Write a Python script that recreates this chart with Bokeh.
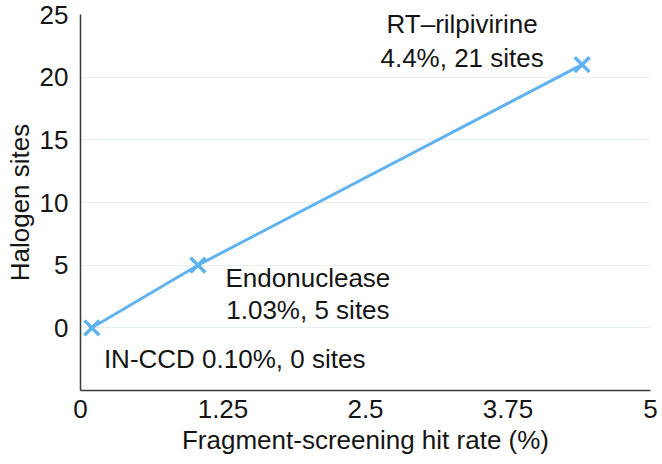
from bokeh.plotting import figure
from bokeh.models import FixedTicker, Range1d, Label, ColumnDataSource
from bokeh.embed import file_html
from bokeh.resources import INLINE

# ---- data ----
targets = ["IN-CCD", "Endonuclease", "RT\u2013rilpivirine"]
hit_rate = [0.10, 1.03, 4.4]
halogen_sites = [0, 5, 21]
label_line1 = ["IN-CCD 0.10%, 0 sites", "Endonuclease", "RT\u2013rilpivirine"]
label_line2 = ["", "1.03%, 5 sites", "4.4%, 21 sites"]
x_ticks = [0, 1.25, 2.5, 3.75, 5]
x_tick_labels = ["0", "1.25", "2.5", "3.75", "5"]
y_ticks = [0, 5, 10, 15, 20, 25]
y_tick_labels = ["0", "5", "10", "15", "20", "25"]

FONT = "Liberation Sans"
FS = "26px"
TXT = "#151515"
BLUE = "#60b3f0"

p = figure(width=660, height=462, output_backend="svg", toolbar_location=None,
           x_range=Range1d(0, 5), y_range=Range1d(-5, 25),
           min_border_left=80, min_border_right=10, min_border_top=14, min_border_bottom=72)
p.outline_line_color = None
p.background_fill_color = "white"

# grid
p.xgrid.grid_line_color = None
p.ygrid.grid_line_color = "#e6eef0"
p.ygrid.grid_line_width = 1
p.ygrid.ticker = FixedTicker(ticks=y_ticks)

for ax in (p.xaxis[0], p.yaxis[0]):
    ax.axis_line_color = "#3a3a3a"
    ax.axis_line_width = 1.5
    ax.major_tick_line_color = None
    ax.minor_tick_line_color = None
    ax.major_tick_out = 0
    ax.major_tick_in = 0
    ax.minor_tick_out = 0
    ax.minor_tick_in = 0
    ax.major_label_text_font = FONT
    ax.major_label_text_font_size = FS
    ax.major_label_text_color = TXT
    ax.axis_label_text_font = FONT
    ax.axis_label_text_font_size = FS
    ax.axis_label_text_font_style = "normal"
    ax.axis_label_text_color = TXT

p.xaxis.ticker = FixedTicker(ticks=x_ticks)
p.xaxis.major_label_overrides = {t: l for t, l in zip(x_ticks, x_tick_labels)}
p.xaxis.major_label_standoff = 9
p.xaxis.axis_label = "Fragment-screening hit rate (%)"
p.xaxis.axis_label_standoff = 4

p.yaxis.ticker = FixedTicker(ticks=y_ticks)
p.yaxis.major_label_standoff = 12
p.yaxis.major_label_overrides = {t: l for t, l in zip(y_ticks, y_tick_labels)}
p.yaxis.axis_label = "Halogen sites"
p.yaxis.axis_label_standoff = 2

src = ColumnDataSource(dict(x=hit_rate, y=halogen_sites))

p.line(x="x", y="y", source=src, line_color=BLUE, line_width=3)
p.scatter(x="x", y="y", source=src, marker="x", size=21, line_color=BLUE, line_width=3.5)

# annotations (per point offsets in pixels: dx, line-1 dy, line-2 dy; positive = down)
offs = [(12, 31, 0), (110, 13, 45), (-120, -41, -7)]
for i in range(len(targets)):
    dx, dy1, dy2 = offs[i]
    align = "left" if i == 0 else "center"
    p.add_layout(Label(x=hit_rate[i], y=halogen_sites[i], x_offset=dx, y_offset=-dy1,
                       text=label_line1[i], text_align=align, text_baseline="middle",
                       text_font=FONT, text_font_size=FS, text_color=TXT))
    if label_line2[i]:
        p.add_layout(Label(x=hit_rate[i], y=halogen_sites[i], x_offset=dx, y_offset=-dy2,
                           text=label_line2[i], text_align=align, text_baseline="middle",
                           text_font=FONT, text_font_size=FS, text_color=TXT))

open("out.html", "w").write(file_html(p, INLINE))
